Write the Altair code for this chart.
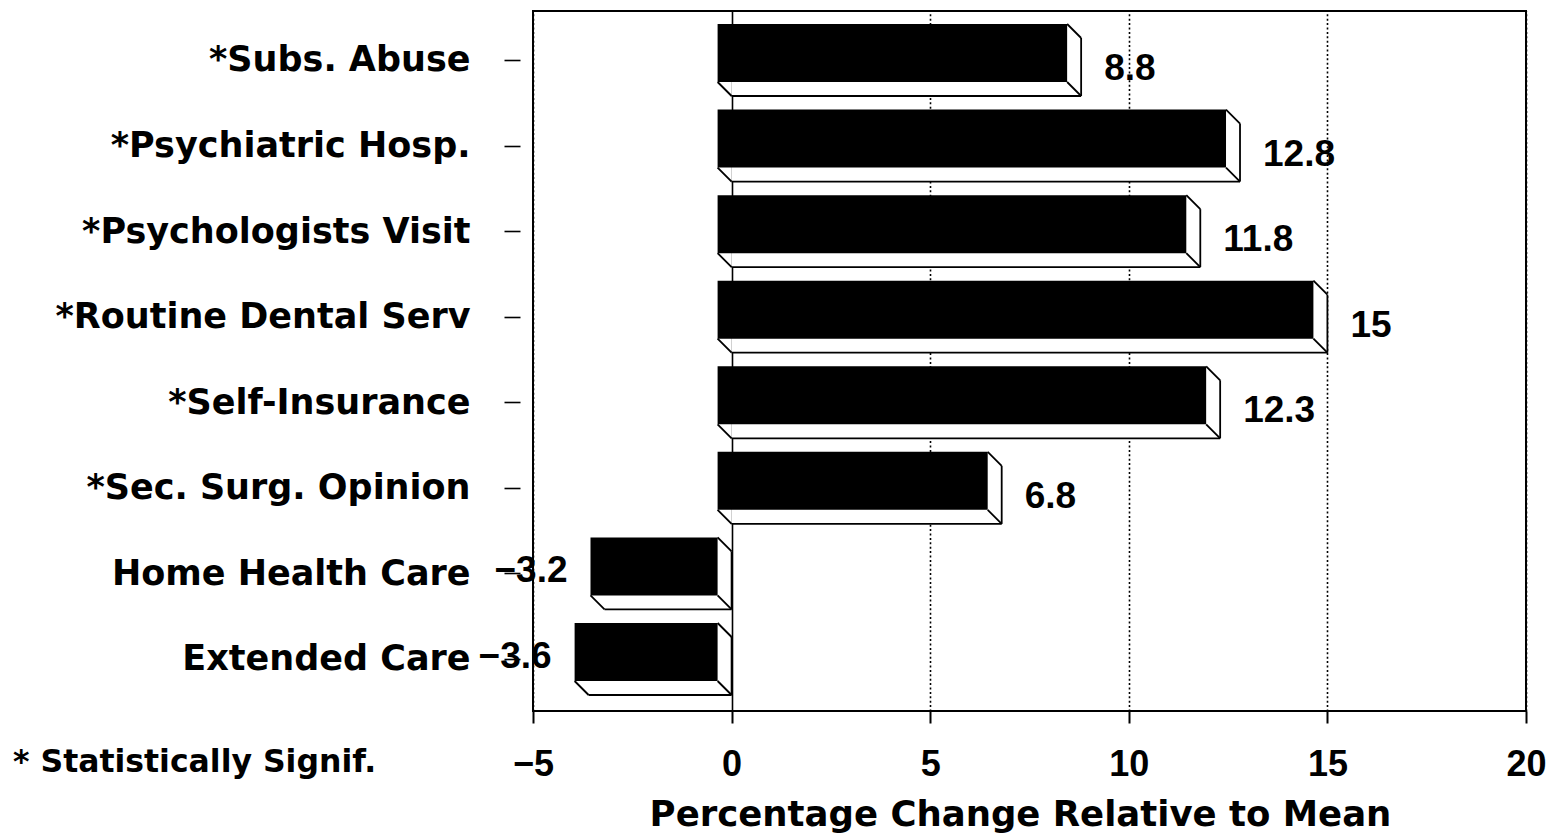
import json

import altair as alt
import pandas as pd

# Utilization change per benefit; a leading * marks a statistically significant result
categories = [
    "*Subs. Abuse",
    "*Psychiatric Hosp.",
    "*Psychologists Visit",
    "*Routine Dental Serv",
    "*Self-Insurance",
    "*Sec. Surg. Opinion",
    "Home Health Care",
    "Extended Care",
]
values = [8.8, 12.8, 11.8, 15, 12.3, 6.8, -3.2, -3.6]
x_ticks = [-5, 0, 5, 10, 15, 20]
footnote = ["* Statistically Signif."]

df = pd.DataFrame({"service": categories, "change": values, "pos": list(range(len(categories)))})

# plot area geometry (pixels) and scale domains
W, H = 993, 700
X_DOMAIN = [-5, 20]
Y_DOMAIN = [-0.5726, 7.6078]
px_x = (X_DOMAIN[1] - X_DOMAIN[0]) / W  # data units per pixel, horizontal
px_y = (Y_DOMAIN[1] - Y_DOMAIN[0]) / H  # data units per pixel, vertical

DEPTH = 14                # 3-D extrusion of each bar, pixels
FRONT_TOP, FRONT_BOT = -36, 22   # front face edges relative to category centre, pixels
dx = DEPTH * px_x
dy = DEPTH * px_y

xs = alt.Scale(domain=X_DOMAIN, nice=False, zero=False)
ys = alt.Scale(domain=Y_DOMAIN, reverse=True, nice=False, zero=False)

LABEL_FONT = "DejaVu Sans"
NUM_FONT = "Liberation Sans"

x_axis = alt.Axis(
    values=x_ticks,
    title="Percentage Change Relative to Mean",
    titleFont=LABEL_FONT, titleFontSize=35.5, titleFontWeight="bold", titleColor="black",
    titlePadding=15, titleX=487, titleAlign="center",
    labelFont=NUM_FONT, labelFontSize=36, labelFontWeight="bold", labelColor="black",
    labelPadding=24, labelFlush=False, labelOverlap=False,
    domain=False, ticks=True, tickSize=12, tickWidth=2, tickColor="black",
    grid=True, gridColor="black", gridWidth=1.6, gridOpacity=1,
    gridDash=alt.condition("datum.value == 0", alt.value([]), alt.value([2, 2.4])),
)
y_axis = alt.Axis(
    values=list(range(len(categories))),
    labelExpr=f"{json.dumps(categories)}[datum.value]",
    title=None,
    labelFont=LABEL_FONT, labelFontSize=35, labelFontWeight="bold", labelColor="black",
    labelPadding=34, labelFlush=False, labelOverlap=False, labelLimit=520,
    domain=False, offset=13, tickSize=16, tickWidth=1.6, tickColor="black",
    grid=False,
)


def X(field):
    return alt.X(f"{field}:Q", scale=xs, axis=x_axis)


def Y(field):
    return alt.Y(f"{field}:Q", scale=ys, axis=y_axis)


base = (
    alt.Chart(df)
    .transform_calculate(lo="min(datum.change, 0)", hi="max(datum.change, 0)")
    .transform_calculate(
        flo=f"datum.lo - {dx}",
        fhi=f"datum.hi - {dx}",
        ftop=f"datum.pos + {FRONT_TOP * px_y}",
        fbot=f"datum.pos + {FRONT_BOT * px_y}",
    )
    .transform_calculate(btop=f"datum.ftop + {dy}", bbot=f"datum.fbot + {dy}")
)

# back face (white) that hides the grid behind the extrusion
back = base.mark_rect(fill="white", strokeWidth=0).encode(
    x=X("lo"), x2="hi:Q", y=Y("btop"), y2="bbot:Q"
)

edge = dict(color="black", strokeWidth=1.8)
right_edge = base.mark_rule(**edge).encode(x=X("hi"), y=Y("btop"), y2="bbot:Q")
bottom_edge = base.mark_rule(**edge).encode(x=X("lo"), x2="hi:Q", y=Y("bbot"))
diag_tr = base.mark_rule(**edge).encode(x=X("fhi"), x2="hi:Q", y=Y("ftop"), y2="btop:Q")
diag_br = base.mark_rule(**edge).encode(x=X("fhi"), x2="hi:Q", y=Y("fbot"), y2="bbot:Q")
diag_bl = base.mark_rule(**edge).encode(x=X("flo"), x2="lo:Q", y=Y("fbot"), y2="bbot:Q")

# black front face
front = base.mark_rect(color="black").encode(x=X("flo"), x2="fhi:Q", y=Y("ftop"), y2="fbot:Q")

text_style = dict(baseline="middle", font=NUM_FONT, fontWeight="bold", fontSize=37, color="black")
pos_labels = (
    base.transform_filter("datum.change >= 0")
    .transform_calculate(lx=f"datum.change + {23 * px_x}", ly=f"datum.pos + {9 * px_y}")
    .mark_text(align="left", **text_style)
    .encode(x=X("lx"), y=Y("ly"), text=alt.Text("change:Q", format=".1~f"))
)
neg_labels = (
    base.transform_filter("datum.change < 0")
    .transform_calculate(lx=f"datum.change - {37 * px_x}", ly=f"datum.pos - {2 * px_y}")
    .mark_text(align="right", **text_style)
    .encode(x=X("lx"), y=Y("ly"), text=alt.Text("change:Q", format=".1~f"))
)

note = alt.Chart(pd.DataFrame({"note": footnote})).mark_text(
    align="left", baseline="middle", font=LABEL_FONT, fontWeight="bold", fontSize=31.5,
    color="black", x=-520, y=752,
).encode(text="note:N")

chart = (
    alt.layer(
        back, right_edge, bottom_edge, diag_tr, diag_br, diag_bl, front,
        pos_labels, neg_labels, note,
    )
    .properties(
        width=W,
        height=H,
        autosize=alt.AutoSizeParams(type="none"),
        padding={"left": 533, "top": 11, "right": 36, "bottom": 125},
        background="white",
    )
    .configure_view(stroke="black", strokeWidth=2)
)

chart.save("out.html", embed_options={"renderer": "svg", "actions": False})
